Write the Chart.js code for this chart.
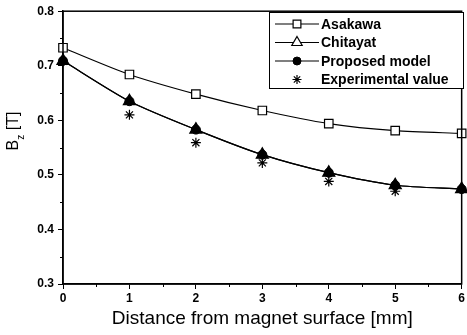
<!DOCTYPE html>
<html lang="en">
<head>
<meta charset="UTF-8">
<title>Bz vs distance</title>
<script src="https://cdn.jsdelivr.net/npm/chart.js"></script>
<style>
  body { margin: 0; background: #fff; }
  #wrap { width: 467px; height: 335px; }
</style>
</head>
<body>
<div id="wrap"><canvas id="myChart" width="467" height="335"></canvas></div>
<script>
// data
const distance = [0, 1, 2, 3, 4, 5, 6];
const asakawa = [0.733, 0.684, 0.648, 0.618, 0.594, 0.581, 0.576];
const chitayat = [0.709, 0.635, 0.583, 0.537, 0.504, 0.481, 0.474];
const proposed = [0.709, 0.635, 0.583, 0.537, 0.504, 0.481, 0.474];
const experimental = [0.708, 0.610, 0.559, 0.522, 0.488, 0.470, null];
const yTicks = [0.3, 0.4, 0.5, 0.6, 0.7, 0.8];
const xTicks = [0, 1, 2, 3, 4, 5, 6];

const FONT = '"Liberation Sans", Arial, sans-serif';

function pts(ys) {
    return distance.map((x, i) => ({ x: x, y: ys[i] }));
}

// border box, minor ticks, y title with subscript, boxed legend
const extras = {
    id: 'extras',
    afterDraw(chart) {
        const ctx = chart.ctx;
        const a = chart.chartArea;
        const xs = chart.scales.x, ys = chart.scales.y;
        ctx.save();
        ctx.strokeStyle = '#000';
        ctx.lineWidth = 1.5;
        ctx.strokeRect(a.left, a.top, a.right - a.left, a.bottom - a.top);

        // minor ticks
        ctx.lineWidth = 1;
        ctx.beginPath();
        for (let v = 0.35; v < 0.8; v += 0.1) {
            const py = Math.round(ys.getPixelForValue(v)) + 0.5;
            ctx.moveTo(a.left - 3, py); ctx.lineTo(a.left, py);
        }
        for (let v = 0.5; v < 6; v += 1) {
            const px = Math.round(xs.getPixelForValue(v)) + 0.5;
            ctx.moveTo(px, a.bottom); ctx.lineTo(px, a.bottom + 3);
        }
        ctx.stroke();

        // y axis title  B_z [T]
        ctx.save();
        ctx.translate(14, 131);
        ctx.rotate(-Math.PI / 2);
        ctx.fillStyle = '#000';
        ctx.textBaseline = 'middle';
        ctx.font = '16px ' + FONT;
        const w1 = ctx.measureText('B').width;
        ctx.font = '10px ' + FONT;
        const w2 = ctx.measureText('z').width;
        ctx.font = '16px ' + FONT;
        const w3 = ctx.measureText(' [T]').width;
        let x0 = -(w1 + w2 + w3) / 2;
        ctx.fillText('B', x0, 0);
        ctx.font = '10px ' + FONT;
        ctx.fillText('z', x0 + w1, 7);
        ctx.font = '16px ' + FONT;
        ctx.fillText(' [T]', x0 + w1 + w2, 0);
        ctx.restore();

        // legend, in dataset order
        const bx = 269, by = 12, bw = 194, bh = 76;
        ctx.fillStyle = '#fff';
        ctx.fillRect(bx, by, bw, bh);
        ctx.lineWidth = 1;
        ctx.strokeStyle = '#000';
        ctx.strokeRect(bx + 0.5, by + 0.5, bw, bh);
        ctx.font = 'bold 14px ' + FONT;
        ctx.textBaseline = 'middle';
        chart.data.datasets.forEach((ds, i) => {
            const ly = by + 12 + i * 18.5;
            ctx.strokeStyle = '#000';
            ctx.lineWidth = 1.2;
            if (ds.showLine !== false) {
                ctx.beginPath();
                ctx.moveTo(bx + 6, ly); ctx.lineTo(bx + 50, ly);
                ctx.stroke();
            }
            ctx.fillStyle = ds.legendFill || ds.pointBackgroundColor;
            ctx.strokeStyle = ds.pointBorderColor;
            ctx.lineWidth = ds.pointBorderWidth;
            Chart.helpers.drawPoint(ctx, {
                pointStyle: ds.pointStyle,
                radius: ds.legendRadius || ds.pointRadius,
                rotation: 0,
                borderWidth: ds.pointBorderWidth
            }, bx + 28, ly);
            ctx.fillStyle = '#000';
            ctx.fillText(ds.label, bx + 52, ly + 1);
        });
        ctx.restore();
    }
};

const ctx = document.getElementById('myChart').getContext('2d');
new Chart(ctx, {
    type: 'scatter',
    data: {
        datasets: [
            {
                label: 'Asakawa',
                data: pts(asakawa),
                order: 1,
                showLine: true,
                tension: 0.25,
                borderColor: '#000',
                borderWidth: 1.2,
                pointStyle: 'rect',
                pointRadius: 6,
                pointBackgroundColor: '#fff',
                pointBorderColor: '#000',
                pointBorderWidth: 1.2,
                legendRadius: 5.5
            },
            {
                label: 'Chitayat',
                data: pts(chitayat),
                order: 3,
                showLine: true,
                tension: 0.25,
                borderColor: '#000',
                borderWidth: 1.2,
                pointStyle: 'triangle',
                pointRadius: 7,
                pointBackgroundColor: '#000',
                pointBorderColor: '#000',
                pointBorderWidth: 1.2,
                legendFill: '#fff',
                legendRadius: 6
            },
            {
                label: 'Proposed model',
                data: pts(proposed),
                order: 2,
                showLine: true,
                tension: 0.25,
                borderColor: '#000',
                borderWidth: 1.2,
                pointStyle: 'circle',
                pointRadius: 4.5,
                pointBackgroundColor: '#000',
                pointBorderColor: '#000',
                pointBorderWidth: 1,
                legendRadius: 4
            },
            {
                label: 'Experimental value',
                data: pts(experimental),
                order: 4,
                showLine: false,
                pointStyle: 'star',
                pointRadius: 5,
                pointBackgroundColor: '#000',
                pointBorderColor: '#000',
                pointBorderWidth: 1.2,
                legendRadius: 4.5
            }
        ]
    },
    options: {
        responsive: false,
        animation: false,
        clip: false,
        layout: { autoPadding: false, padding: { left: 0, right: 1, top: 9, bottom: 0 } },
        plugins: { legend: { display: false }, tooltip: { enabled: false } },
        scales: {
            x: {
                type: 'linear',
                min: 0, max: 6,
                afterFit: s => { s.height = 51; },
                afterBuildTicks: s => { s.ticks = xTicks.map(v => ({ value: v })); },
                grid: { drawOnChartArea: false, tickLength: 5, color: '#000', lineWidth: 1 },
                border: { color: '#000', width: 1.5 },
                ticks: { color: '#000', padding: 2, maxRotation: 0, font: { family: FONT, size: 12, weight: 'bold' } },
                title: {
                    display: true,
                    text: 'Distance from magnet surface [mm]',
                    color: '#000',
                    font: { family: FONT, size: 19 },
                    padding: { top: 0, bottom: 5 }
                }
            },
            y: {
                min: 0.3, max: 0.8,
                afterFit: s => { s.width = 63; },
                afterBuildTicks: s => { s.ticks = yTicks.map(v => ({ value: v })); },
                grid: { drawOnChartArea: false, tickLength: 5, color: '#000', lineWidth: 1 },
                border: { color: '#000', width: 1.5 },
                ticks: {
                    color: '#000', padding: 4,
                    font: { family: FONT, size: 12, weight: 'bold' },
                    callback: v => v.toFixed(1)
                }
            }
        }
    },
    plugins: [extras]
});
</script>
</body>
</html>
